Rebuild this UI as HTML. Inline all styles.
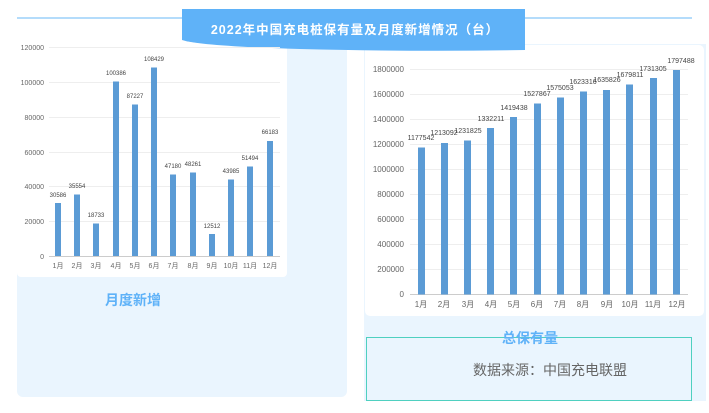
<!DOCTYPE html>
<html><head><meta charset="utf-8"><style>
body{margin:0;width:709px;height:408px;background:#fff;overflow:hidden;font-family:"Liberation Sans","Noto Sans CJK SC",sans-serif}
</style></head><body>
<svg width="709" height="408" xmlns="http://www.w3.org/2000/svg" font-family="Liberation Sans, Noto Sans CJK SC, sans-serif">
<line x1="17" y1="18" x2="692" y2="18" stroke="#6ab8f7" stroke-width="1"/>
<rect x="17" y="36" width="330" height="361" rx="6" fill="#eaf5fe"/>
<rect x="364" y="44" width="342" height="357" fill="#eaf5fe"/>
<rect x="17" y="36" width="270" height="241" rx="4" fill="#fff"/>
<rect x="365" y="45" width="339" height="271" rx="5" fill="#fff"/>
<path d="M182 9 H525 V50 Q420 52 300 49 Q200 46 182 40 Z" fill="#5fb2f8"/>
<text x="355" y="34" text-anchor="middle" fill="#fff" font-size="12.5" font-weight="bold" letter-spacing="1">2022年中国充电桩保有量及月度新增情况（台）</text>
<g font-size="7" fill="#666" text-anchor="end">
<g stroke="#eee" stroke-width="1">
<line x1="49" x2="280" y1="47.5" y2="47.5"/><line x1="49" x2="280" y1="82.5" y2="82.5"/><line x1="49" x2="280" y1="117.5" y2="117.5"/><line x1="49" x2="280" y1="152.5" y2="152.5"/><line x1="49" x2="280" y1="186.5" y2="186.5"/><line x1="49" x2="280" y1="221.5" y2="221.5"/><line x1="49" x2="280" y1="256.5" y2="256.5" stroke="#ccc"/>
</g>
<text x="44" y="50">120000</text><text x="44" y="85">100000</text><text x="44" y="120">80000</text><text x="44" y="155">60000</text><text x="44" y="189">40000</text><text x="44" y="224">20000</text><text x="44" y="259">0</text>
</g>
<g fill="#5b9bd5" id="b1">
<rect x="55" y="203" width="6" height="53"/>
<rect x="74" y="194.5" width="6" height="61.5"/>
<rect x="93" y="223.5" width="6" height="32.5"/>
<rect x="113" y="81.5" width="6" height="174.5"/>
<rect x="132" y="104.5" width="6" height="151.5"/>
<rect x="151" y="67.5" width="6" height="188.5"/>
<rect x="170" y="174.5" width="6" height="81.5"/>
<rect x="190" y="172.5" width="6" height="83.5"/>
<rect x="209" y="234" width="6" height="22"/>
<rect x="228" y="179.5" width="6" height="76.5"/>
<rect x="247" y="166.5" width="6" height="89.5"/>
<rect x="267" y="141" width="6" height="115"/>
</g>
<g font-size="6" fill="#444" text-anchor="middle">
<text x="58" y="197">30586</text><text x="77" y="188">35554</text><text x="96" y="217">18733</text><text x="116" y="75">100386</text><text x="135" y="98">87227</text><text x="154" y="61">108429</text><text x="173" y="168">47180</text><text x="193" y="166">48261</text><text x="212" y="228">12512</text><text x="231" y="173">43985</text><text x="250" y="160">51494</text><text x="270" y="134">66183</text>
</g>
<g font-size="7" fill="#666" text-anchor="middle">
<text x="58" y="268">1月</text><text x="77" y="268">2月</text><text x="96" y="268">3月</text><text x="116" y="268">4月</text><text x="135" y="268">5月</text><text x="154" y="268">6月</text><text x="173" y="268">7月</text><text x="193" y="268">8月</text><text x="212" y="268">9月</text><text x="231" y="268">10月</text><text x="250" y="268">11月</text><text x="270" y="268">12月</text>
</g>
<text x="133" y="305" text-anchor="middle" fill="#5fb2f8" font-size="14" font-weight="bold">月度新增</text>

<g stroke="#eee" stroke-width="1">
<line x1="410" x2="688" y1="69.5" y2="69.5"/><line x1="410" x2="688" y1="94.5" y2="94.5"/><line x1="410" x2="688" y1="119.5" y2="119.5"/><line x1="410" x2="688" y1="144.5" y2="144.5"/><line x1="410" x2="688" y1="169.5" y2="169.5"/><line x1="410" x2="688" y1="194.5" y2="194.5"/><line x1="410" x2="688" y1="219.5" y2="219.5"/><line x1="410" x2="688" y1="244.5" y2="244.5"/><line x1="410" x2="688" y1="269.5" y2="269.5"/><line x1="410" x2="688" y1="294.5" y2="294.5" stroke="#ccc"/>
</g>
<g font-size="8" fill="#666" text-anchor="end">
<text x="404" y="72">1800000</text><text x="404" y="97">1600000</text><text x="404" y="122">1400000</text><text x="404" y="147">1200000</text><text x="404" y="172">1000000</text><text x="404" y="197">800000</text><text x="404" y="222">600000</text><text x="404" y="247">400000</text><text x="404" y="272">200000</text><text x="404" y="297">0</text>
</g>
<g fill="#5b9bd5">
<rect x="418" y="147.5" width="7" height="147"/>
<rect x="441" y="143" width="7" height="151.5"/>
<rect x="464" y="140.5" width="7" height="154"/>
<rect x="487" y="128" width="7" height="166.5"/>
<rect x="510" y="117" width="7" height="177.5"/>
<rect x="534" y="103.5" width="7" height="191"/>
<rect x="557" y="97.5" width="7" height="197"/>
<rect x="580" y="91.5" width="7" height="203"/>
<rect x="603" y="90" width="7" height="204.5"/>
<rect x="626" y="84.5" width="7" height="210"/>
<rect x="650" y="78" width="7" height="216.5"/>
<rect x="673" y="70" width="7" height="224.5"/>
</g>
<g font-size="7" fill="#444" text-anchor="middle">
<text x="421" y="140">1177542</text><text x="444" y="135">1213092</text><text x="468" y="133">1231825</text><text x="491" y="121">1332211</text><text x="514" y="110">1419438</text><text x="537" y="96">1527867</text><text x="560" y="90">1575053</text><text x="583" y="84">1623316</text><text x="607" y="82">1635826</text><text x="630" y="77">1679811</text><text x="653" y="71">1731305</text><text x="681" y="63">1797488</text>
</g>
<g font-size="8" fill="#666" text-anchor="middle">
<text x="421" y="307">1月</text><text x="444" y="307">2月</text><text x="468" y="307">3月</text><text x="491" y="307">4月</text><text x="514" y="307">5月</text><text x="537" y="307">6月</text><text x="560" y="307">7月</text><text x="583" y="307">8月</text><text x="607" y="307">9月</text><text x="630" y="307">10月</text><text x="653" y="307">11月</text><text x="677" y="307">12月</text>
</g>
<rect x="366.5" y="337.5" width="325" height="63" fill="none" stroke="#4fd0c0" stroke-width="1"/>
<text x="530" y="343" text-anchor="middle" fill="#5fb2f8" font-size="14" font-weight="bold">总保有量</text>
<text x="550" y="375" text-anchor="middle" fill="#666" font-size="14">数据来源：中国充电联盟</text>
</svg>
</body></html>
